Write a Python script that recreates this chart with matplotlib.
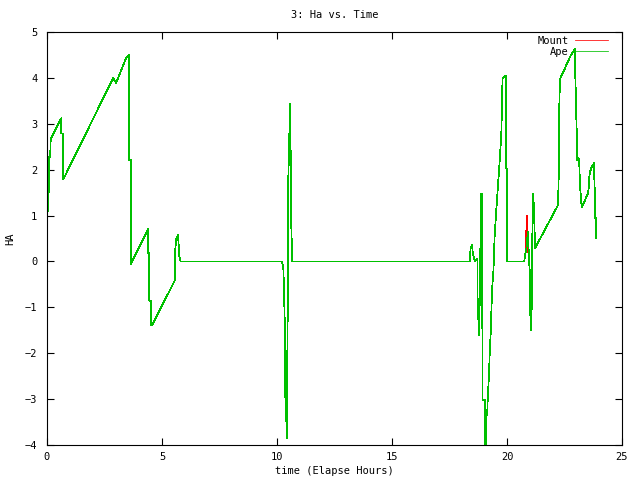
import matplotlib
matplotlib.use("Agg")
import matplotlib.pyplot as plt

# time (hours) shared by both series
hours = [
    0.00, 0.04, 0.05, 0.09, 0.10, 0.14, 0.16, 0.24, 0.62, 0.62,
    0.68, 0.68, 0.71, 2.88, 3.00, 3.43, 3.58, 3.58, 3.64, 3.64,
    4.39, 4.39, 4.45, 4.45, 4.51, 4.51, 4.57, 5.55, 5.55, 5.61,
    5.70, 5.75, 5.81, 10.22, 10.28, 10.33, 10.36, 10.39, 10.42, 10.48,
    10.48, 10.54, 10.57, 10.59, 10.62, 10.66, 18.38, 18.42, 18.48, 18.51,
    18.57, 18.62, 18.68, 18.72, 18.72, 18.78, 18.80, 18.83, 18.85, 18.88,
    18.91, 18.94, 19.03, 19.03, 19.07, 19.10, 19.14, 19.16, 19.22, 19.25,
    19.29, 19.35, 19.41, 19.46, 19.52, 19.58, 19.64, 19.70, 19.76, 19.78,
    19.81, 19.93, 19.96, 19.96, 19.99, 19.99, 20.75, 20.80, 20.85, 20.88,
    20.90, 20.93, 20.96, 21.00, 21.00, 21.04, 21.04, 21.08, 21.10, 21.13,
    21.17, 21.22, 22.22, 22.25, 22.27, 22.30, 22.35, 22.52, 22.74, 22.96,
    22.97, 23.03, 23.06, 23.09, 23.12, 23.14, 23.17, 23.20, 23.23, 23.26,
    23.52, 23.55, 23.58, 23.61, 23.67, 23.73, 23.78, 23.81, 23.84, 23.87,
    23.87,
]

mount_ha = [
    1.05, 1.10, 1.52, 1.52, 2.28, 2.28, 2.66, 2.75, 3.12, 2.79,
    2.79, 2.14, 1.79, 4.00, 3.89, 4.42, 4.50, 2.21, 2.21, -0.06,
    0.70, 0.19, 0.19, -0.86, -0.86, -1.39, -1.39, -0.42, 0.03, 0.49,
    0.58, 0.12, 0.00, 0.00, -0.19, -1.15, -2.95, -2.95, -3.85, -0.19,
    1.57, 2.79, 3.43, 2.55, 0.83, 0.00, 0.00, 0.30, 0.36, 0.20,
    0.05, 0.00, 0.05, 0.05, -0.77, -1.60, -0.95, -0.95, 1.00, 1.48,
    1.48, -3.02, -3.02, -4.00, -4.00, -3.35, -3.35, -3.00, -2.44, -1.97,
    -1.58, -0.62, -0.20, 0.52, 1.01, 1.45, 1.88, 2.32, 2.86, 3.55,
    3.99, 4.04, 4.04, 2.03, 2.03, 0.00, 0.00, 0.18, 0.76, 0.99,
    0.55, 0.20, 0.00, -0.30, -1.17, -0.77, -1.49, -0.90, 0.50, 1.48,
    1.19, 0.29, 1.23, 1.92, 3.26, 3.97, 4.03, 4.21, 4.46, 4.64,
    4.06, 2.79, 2.21, 2.20, 2.25, 2.18, 1.70, 1.48, 1.27, 1.19,
    1.48, 1.60, 1.85, 1.95, 2.05, 2.10, 2.14, 1.60, 0.94, 0.94,
    0.50,
]

ape_ha = [
    1.05, 1.10, 1.52, 1.52, 2.28, 2.28, 2.66, 2.75, 3.12, 2.79,
    2.79, 2.14, 1.79, 4.00, 3.89, 4.42, 4.50, 2.21, 2.21, -0.06,
    0.70, 0.19, 0.19, -0.86, -0.86, -1.39, -1.39, -0.42, 0.03, 0.49,
    0.58, 0.12, 0.00, 0.00, -0.19, -1.15, -2.95, -2.95, -3.85, -0.19,
    1.57, 2.79, 3.43, 2.55, 0.83, 0.00, 0.00, 0.30, 0.36, 0.20,
    0.05, 0.00, 0.05, 0.05, -0.77, -1.60, -0.95, -0.95, 1.00, 1.48,
    1.48, -3.02, -3.02, -4.00, -4.00, -3.35, -3.35, -3.00, -2.44, -1.97,
    -1.58, -0.62, -0.20, 0.52, 1.01, 1.45, 1.88, 2.32, 2.86, 3.55,
    3.99, 4.04, 4.04, 2.03, 2.03, 0.00, 0.00, 0.18, 0.30, 0.45,
    0.65, 0.40, 0.00, -0.30, -1.17, -0.77, -1.49, -0.90, 0.50, 1.48,
    1.19, 0.29, 1.23, 1.92, 3.26, 3.97, 4.03, 4.21, 4.46, 4.64,
    4.06, 2.79, 2.21, 2.20, 2.25, 2.18, 1.70, 1.48, 1.27, 1.19,
    1.48, 1.60, 1.85, 1.95, 2.05, 2.10, 2.14, 1.60, 0.94, 0.94,
    0.50,
]

x_ticks = [0, 5, 10, 15, 20, 25]
y_ticks = [-4, -3, -2, -1, 0, 1, 2, 3, 4, 5]

plt.rcParams["font.family"] = ["DejaVu Sans Mono"]
plt.rcParams["font.size"] = 7.5

fig = plt.figure(figsize=(6.4, 4.8), dpi=100)
ax = fig.add_axes([47 / 640, 1 - 445 / 480, 575 / 640, 413 / 480])

ax.plot(hours, mount_ha, color="#ff0000", lw=0.55, antialiased=False, label="Mount")
ax.plot(hours, ape_ha, color="#00c000", lw=0.55, antialiased=False, label="Ape")

ax.set_xlim(0, 25)
ax.set_ylim(-4, 5)
ax.set_xticks(x_ticks)
ax.set_yticks(y_ticks)
ax.tick_params(direction="in", length=5, width=0.8, top=True, right=True)
ax.tick_params(axis="x", pad=5)
ax.tick_params(axis="y", pad=7)
for s in ax.spines.values():
    s.set_linewidth(0.8)

ax.set_title("3: Ha vs. Time", fontsize=7.5, pad=10)
ax.set_xlabel("time (Elapse Hours)", labelpad=3)
ax.set_ylabel("HA", labelpad=7)

ax.legend(loc="upper right", frameon=False, markerfirst=False, handlelength=3.2,
          handletextpad=0.6, labelspacing=0.1, borderaxespad=0, borderpad=0,
          bbox_to_anchor=(608 / 640, 1 - 36 / 480), bbox_transform=fig.transFigure)

fig.savefig("out.png", dpi=100)
